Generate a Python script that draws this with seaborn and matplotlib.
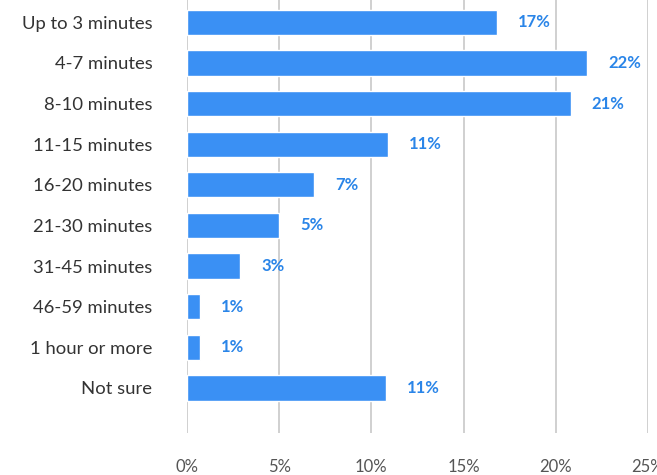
import matplotlib
matplotlib.use("Agg")
import matplotlib.pyplot as plt
import seaborn as sns

# Data
categories = ["Up to 3 minutes", "4-7 minutes", "8-10 minutes", "11-15 minutes",
              "16-20 minutes", "21-30 minutes", "31-45 minutes", "46-59 minutes",
              "1 hour or more", "Not sure"]
shares = [16.8, 21.7, 20.8, 10.9, 6.9, 5.0, 2.9, 0.7, 0.7, 10.8]
share_labels = ["17%", "22%", "21%", "11%", "7%", "5%", "3%", "1%", "1%", "11%"]
x_ticks = [0, 5, 10, 15, 20, 25]

BAR_COLOR = "#3a90f4"
LABEL_COLOR = "#2a85e8"

sns.set_style("white")
plt.rcParams['font.family'] = ['Lato', 'DejaVu Sans']

fig = plt.figure(figsize=(6.57, 4.75), dpi=100)
ax = fig.add_axes([187 / 657, 1 - 433 / 475, (648 - 187) / 657, 433 / 475])

sns.barplot(x=shares, y=categories, color=BAR_COLOR, width=0.62,
            saturation=1, ax=ax, zorder=3)

# value labels to the right of each bar
for i, (v, lab) in enumerate(zip(shares, share_labels)):
    ax.annotate(lab, (v, i), xytext=(15, 0), textcoords="offset points",
                va="center", ha="left", color=LABEL_COLOR,
                fontsize=12, fontweight="bold")

ax.set_xlim(0, 25)
ax.set_ylim(len(categories) - 1 + 1.11, -0.55)
ax.set_xticks(x_ticks)
ax.set_xticklabels([f"{t}%" for t in x_ticks])
ax.grid(axis="x", color="#c8c8c8", linewidth=1.2, zorder=0)
ax.grid(axis="y", visible=False)
for s in ax.spines.values():
    s.set_visible(False)

ax.tick_params(axis="x", length=0, pad=19, labelsize=12, labelcolor="#555555")
ax.tick_params(axis="y", length=0, pad=25, labelsize=13.3, labelcolor="#333333")
ax.set_xlabel("")
ax.set_ylabel("")

fig.savefig("out.png", dpi=100)
